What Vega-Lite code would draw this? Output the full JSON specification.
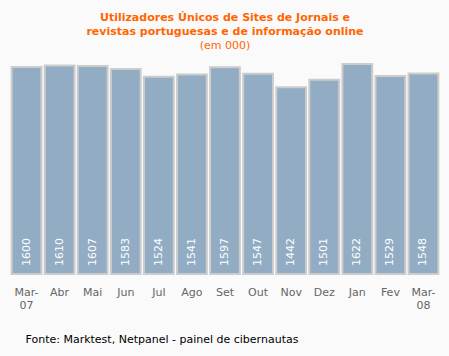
{
  "$schema": "https://vega.github.io/schema/vega-lite/v6.json",
  "width": 449,
  "height": 356,
  "autosize": {"type": "fit", "contains": "padding"},
  "padding": {"left": 10, "right": 9, "top": 12, "bottom": 12},
  "background": "#fafafa",
  "title": {
    "text": ["Utilizadores Únicos de Sites de Jornais e", "revistas portuguesas e de informação online"],
    "subtitle": "(em 000)",
    "color": "#ff6600",
    "subtitleColor": "#ff6600",
    "font": "DejaVu Sans",
    "subtitleFont": "DejaVu Sans",
    "fontSize": 11,
    "subtitleFontSize": 11,
    "fontWeight": "bold",
    "lineHeight": 14,
    "subtitlePadding": 3,
    "offset": -10,
    "anchor": "middle"
  },
  "config": {"view": {"stroke": null}},
  "data": {
    "values": [
      {"mes": "Mar-07", "valor": 1600},
      {"mes": "Abr", "valor": 1610},
      {"mes": "Mai", "valor": 1607},
      {"mes": "Jun", "valor": 1583},
      {"mes": "Jul", "valor": 1524},
      {"mes": "Ago", "valor": 1541},
      {"mes": "Set", "valor": 1597},
      {"mes": "Out", "valor": 1547},
      {"mes": "Nov", "valor": 1442},
      {"mes": "Dez", "valor": 1501},
      {"mes": "Jan", "valor": 1622},
      {"mes": "Fev", "valor": 1529},
      {"mes": "Mar-08", "valor": 1548}
    ]
  },
  "encoding": {
    "x": {
      "field": "mes",
      "type": "nominal",
      "sort": null,
      "scale": {"paddingInner": 0.1, "paddingOuter": 0.05},
      "axis": {
        "labelAngle": 0,
        "ticks": false,
        "domain": false,
        "labelPadding": 12,
        "labelColor": "#666666",
        "labelFont": "DejaVu Sans",
        "labelFontSize": 11,
        "labelLineHeight": 13,
        "labelExpr": "length(datum.value) > 3 ? [slice(datum.value, 0, 4), slice(datum.value, 4)] : datum.value",
        "title": "Fonte: Marktest, Netpanel - painel de cibernautas",
        "titleFont": "DejaVu Sans",
        "titleFontSize": 11,
        "titleFontWeight": "normal",
        "titleColor": "#000000",
        "titleAnchor": "start",
        "titleAlign": "left",
        "titleX": 15,
        "titlePadding": 23
      }
    }
  },
  "layer": [
    {
      "mark": {"type": "bar", "color": "#91acc3", "stroke": "#cccccc", "strokeWidth": 2},
      "encoding": {
        "y": {"field": "valor", "type": "quantitative", "scale": {"domain": [0, 1690]}, "axis": null}
      }
    },
    {
      "mark": {"type": "text", "angle": 270, "align": "left", "baseline": "middle", "dx": 8, "color": "white", "font": "DejaVu Sans", "fontSize": 11},
      "encoding": {
        "y": {"datum": 0, "type": "quantitative"},
        "text": {"field": "valor", "type": "quantitative"}
      }
    }
  ]
}
